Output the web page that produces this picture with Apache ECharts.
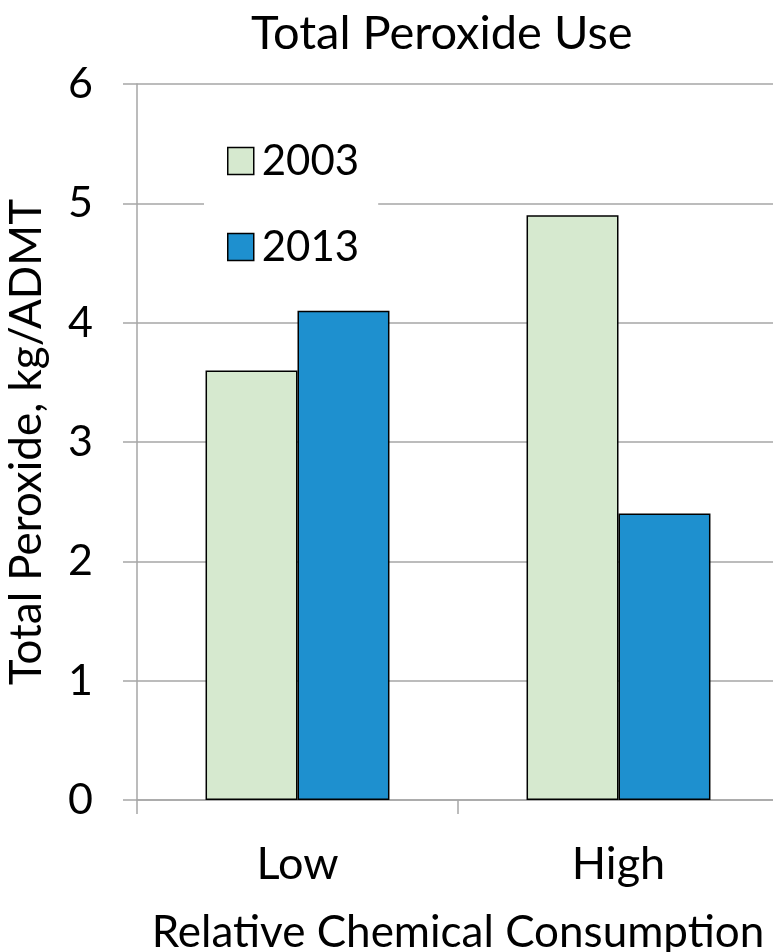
<!DOCTYPE html>
<html>
<head>
<meta charset="utf-8">
<script src="https://cdn.jsdelivr.net/npm/echarts@6/dist/echarts.min.js"></script>
<style>
html,body{margin:0;padding:0;background:#fff;}
#c{width:773px;height:952px;}
</style>
</head>
<body>
<div id="c"></div>
<script>
var categories = ['Low', 'High'];
var series2003 = [3.6, 4.9];
var series2013 = [4.1, 2.4];
var seriesNames = ['2003', '2013'];
var yTicks = [0, 1, 2, 3, 4, 5, 6];

var FONT = 'Lato';
var chart = echarts.init(document.getElementById('c'), null, {renderer: 'canvas'});
var grey = '#a6a6a6';
chart.setOption({
  backgroundColor: '#fff',
  animation: false,
  title: {
    text: 'Total Peroxide Use',
    left: 246,
    top: 5,
    textStyle: {fontFamily: FONT, fontSize: 47, fontWeight: 'normal', color: '#000'}
  },
  legend: {
    orient: 'vertical',
    left: 204,
    top: 125,
    padding: [10, 19, 14, 23],
    backgroundColor: '#fff',
    itemWidth: 26,
    itemHeight: 27,
    itemGap: 34,
    icon: 'rect',
    itemStyle: {borderColor: '#000', borderWidth: 1.5},
    textStyle: {fontFamily: FONT, fontSize: 42, lineHeight: 46, color: '#000', padding: [6, 0, 0, 3]},
    data: seriesNames
  },
  grid: {left: 137, right: -6, top: 84, bottom: 152, containLabel: false, outerBoundsMode: 'none'},
  xAxis: {
    type: 'category',
    data: categories,
    name: 'Relative Chemical Consumption',
    nameLocation: 'middle',
    nameGap: 111,
    nameTextStyle: {fontFamily: FONT, fontSize: 44, color: '#000'},
    axisLine: {show: true, lineStyle: {color: grey, width: 1.5}},
    axisTick: {show: true, length: 14, lineStyle: {color: grey, width: 1.5}},
    axisLabel: {fontFamily: FONT, fontSize: 45, color: '#000', margin: 42},
    splitLine: {show: false}
  },
  yAxis: {
    type: 'value',
    min: yTicks[0],
    max: yTicks[yTicks.length - 1],
    interval: 1,
    name: 'Total Peroxide, kg/ADMT',
    nameLocation: 'middle',
    nameGap: 88,
    nameTextStyle: {fontFamily: FONT, fontSize: 44, color: '#000'},
    axisLine: {show: true, lineStyle: {color: grey, width: 1.5}},
    axisTick: {show: true, length: 14, lineStyle: {color: grey, width: 1.5}},
    axisLabel: {fontFamily: FONT, fontSize: 43, color: '#000', margin: 44},
    splitLine: {show: true, lineStyle: {color: grey, width: 1.5}}
  },
  series: [
    {
      name: seriesNames[0],
      type: 'bar',
      data: series2003,
      barGap: '0%',
      barCategoryGap: '42.7%',
      itemStyle: {color: '#D6E9CF', borderColor: '#000', borderWidth: 1.5}
    },
    {
      name: seriesNames[1],
      type: 'bar',
      data: series2013,
      barGap: '0%',
      barCategoryGap: '42.7%',
      itemStyle: {color: '#1E90CF', borderColor: '#000', borderWidth: 1.5}
    }
  ]
});
</script>
</body>
</html>
